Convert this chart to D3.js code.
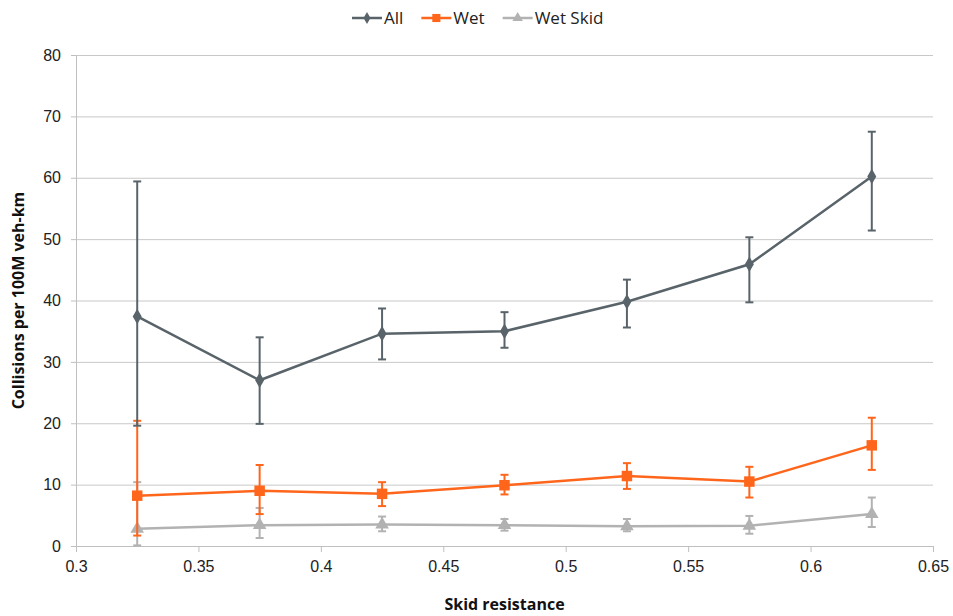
<!DOCTYPE html>
<html>
<head>
<meta charset="utf-8">
<script src="https://cdn.jsdelivr.net/npm/d3@7"></script>
<style>
  body { margin: 0; background: #fff; }
  svg { font-family: "Open Sans", "Liberation Sans", sans-serif; }
  .grid line { stroke: #c8c8c8; }
  .grid path { display: none; }
  .axis path, .axis line { stroke: #bfbfbf; }
  .axis text { fill: #222; font-size: 16px; }
  .label { font-weight: bold; font-size: 16px; fill: #111; }
</style>
</head>
<body>
<svg width="953" height="616"></svg>
<script>
// skid resistance bins
const xs = [0.325, 0.375, 0.425, 0.475, 0.525, 0.575, 0.625];

const allVals = [37.4, 27.0, 34.6, 35.0, 39.8, 45.9, 60.2];
const allHi   = [59.4, 34.0, 38.7, 38.1, 43.4, 50.3, 67.5];
const allLo   = [19.6, 19.9, 30.4, 32.3, 35.6, 39.7, 51.4];

const wetVals = [8.2, 9.0, 8.5, 9.9, 11.4, 10.5, 16.4];
const wetHi   = [20.4, 13.2, 10.4, 11.6, 13.5, 12.9, 20.9];
const wetLo   = [1.7, 5.2, 6.5, 8.4, 9.3, 7.9, 12.4];

const skidVals = [2.8, 3.4, 3.5, 3.4, 3.2, 3.3, 5.2];
const skidHi   = [10.4, 6.2, 4.8, 4.4, 4.4, 4.9, 7.9];
const skidLo   = [0.1, 1.3, 2.4, 2.5, 2.4, 2.0, 3.1];

const xTicks = [0.3, 0.35, 0.4, 0.45, 0.5, 0.55, 0.6, 0.65];
const yTicks = [0, 10, 20, 30, 40, 50, 60, 70, 80];

const margin = {left: 76, right: 20, top: 55, bottom: 70};
const width = 953 - margin.left - margin.right;
const height = 616 - margin.top - margin.bottom;

const svg = d3.select('svg');
const chart = svg.append('g')
                 .attr('transform', `translate(${margin.left}, ${margin.top})`);

const xScale = d3.scaleLinear().domain([0.3, 0.65]).range([0, width]);
const yScale = d3.scaleLinear().domain([0, 80]).range([height, 0]);

chart.append('g')
     .attr('class', 'grid')
     .call(d3.axisLeft(yScale).tickValues(yTicks).tickSize(-width).tickFormat(''));

chart.append('g')
     .attr('class', 'axis')
     .call(d3.axisLeft(yScale).tickValues(yTicks).tickSize(5).tickPadding(8).tickSizeOuter(0))
     .selectAll('text').attr('dx', '-2');

chart.append('g')
     .attr('class', 'axis')
     .attr('transform', `translate(0, ${height})`)
     .call(d3.axisBottom(xScale).tickValues(xTicks).tickSize(6).tickPadding(9).tickSizeOuter(0)
       .tickFormat(d => String(+d.toFixed(2))));

const series = [
  {name: 'All', vals: allVals, hi: allHi, lo: allLo, color: '#59646a', sym: d3.symbolDiamond, size: 70},
  {name: 'Wet', vals: wetVals, hi: wetHi, lo: wetLo, color: '#ff661c', sym: d3.symbolSquare, size: 110},
  {name: 'Wet Skid', vals: skidVals, hi: skidHi, lo: skidLo, color: '#b2b2b2', sym: d3.symbolTriangle, size: 80}
];

// draw back to front so All sits on top
series.slice().reverse().forEach(s => {
  const pts = xs.map((x, i) => ({x: x, y: s.vals[i], hi: s.hi[i], lo: s.lo[i]}));
  const g = chart.append('g');

  const bars = g.selectAll('.err').data(pts).enter().append('g')
                .attr('stroke', s.color).attr('stroke-width', 2);
  bars.append('line')
      .attr('x1', d => xScale(d.x)).attr('x2', d => xScale(d.x))
      .attr('y1', d => yScale(d.hi)).attr('y2', d => yScale(d.lo));
  bars.append('line')
      .attr('x1', d => xScale(d.x) - 4).attr('x2', d => xScale(d.x) + 4)
      .attr('y1', d => yScale(d.hi)).attr('y2', d => yScale(d.hi));
  bars.append('line')
      .attr('x1', d => xScale(d.x) - 4).attr('x2', d => xScale(d.x) + 4)
      .attr('y1', d => yScale(d.lo)).attr('y2', d => yScale(d.lo));

  g.append('path')
   .datum(pts)
   .attr('fill', 'none')
   .attr('stroke', s.color)
   .attr('stroke-width', 2.5)
   .attr('d', d3.line().x(d => xScale(d.x)).y(d => yScale(d.y)));

  g.selectAll('.pt').data(pts).enter().append('path')
   .attr('transform', d => `translate(${xScale(d.x)}, ${yScale(d.y)})`)
   .attr('d', d3.symbol().type(s.sym).size(s.size))
   .attr('fill', s.color);
});

// legend
const legend = svg.append('g').attr('transform', 'translate(352, 18)');
let lx = 0;
series.forEach(s => {
  const item = legend.append('g').attr('transform', `translate(${lx}, 0)`);
  item.append('line').attr('x1', 0).attr('x2', 30).attr('y1', 0).attr('y2', 0)
      .attr('stroke', s.color).attr('stroke-width', 2.5);
  item.append('path').attr('transform', 'translate(15, 0)')
      .attr('d', d3.symbol().type(s.sym).size(s.size * 0.6)).attr('fill', s.color);
  const t = item.append('text').attr('x', 32).attr('y', 6)
      .attr('font-size', 17).attr('fill', '#222').text(s.name);
  lx += 32 + t.node().getComputedTextLength() + 18;
});

svg.append('text')
   .attr('class', 'label')
   .attr('transform', `translate(24, ${margin.top + height / 2}) rotate(-90)`)
   .attr('text-anchor', 'middle')
   .text('Collisions per 100M veh-km');

svg.append('text')
   .attr('class', 'label')
   .attr('x', margin.left + width / 2)
   .attr('y', 610)
   .attr('text-anchor', 'middle')
   .text('Skid resistance');
</script>
</body>
</html>
